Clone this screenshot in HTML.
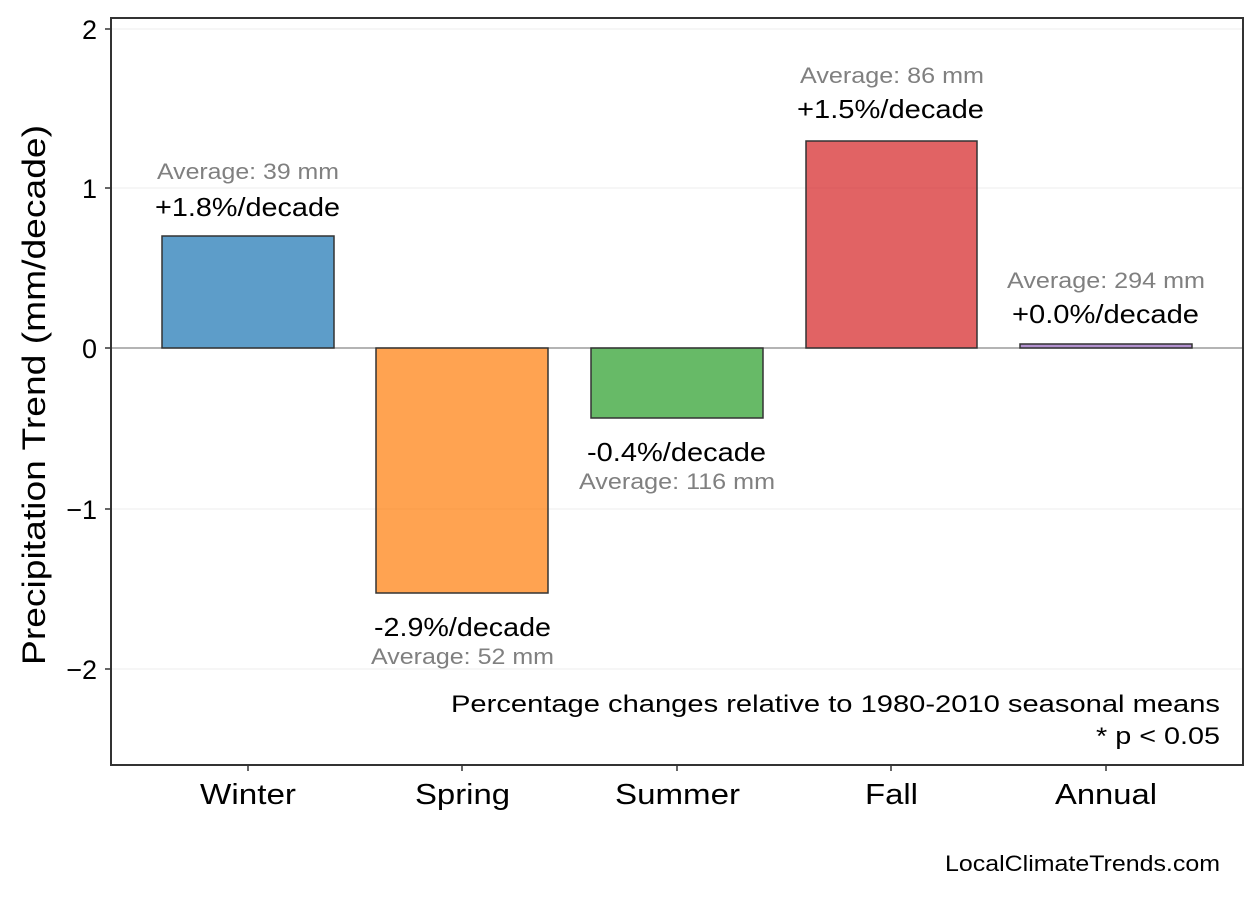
<!DOCTYPE html>
<html><head><meta charset="utf-8"><style>body{margin:0;background:#fff}</style></head><body>
<svg width="1258" height="892" xmlns="http://www.w3.org/2000/svg" font-family="Liberation Sans, sans-serif">
<rect width="1258" height="892" fill="#fff"/>
<g stroke="#eeeeee" stroke-width="1">
<line x1="111" x2="1243" y1="29" y2="29"/><line x1="111" x2="1243" y1="188" y2="188"/>
<line x1="111" x2="1243" y1="509" y2="509"/><line x1="111" x2="1243" y1="669" y2="669"/>
</g>
<line x1="111" x2="1243" y1="348" y2="348" stroke="#888" stroke-width="1.2"/>
<g stroke="#333" stroke-width="1.5" fill-opacity="0.72">
<rect x="162" y="236" width="172" height="112" fill="#1f77b4"/>
<rect x="376" y="348" width="172" height="245" fill="#ff7f0e"/>
<rect x="591" y="348" width="172" height="70" fill="#2ca02c"/>
<rect x="806" y="141" width="171" height="207" fill="#d62728"/>
<rect x="1020" y="344" width="172" height="4" fill="#9467bd"/>
</g>
<rect x="111" y="18" width="1132" height="747" fill="none" stroke="#333" stroke-width="2"/>
<g font-size="27" fill="#000" text-anchor="end">
<text x="97" y="39">2</text><text x="97" y="198">1</text><text x="97" y="358">0</text>
<text x="97" y="519">−1</text><text x="97" y="679">−2</text>
</g>
<g stroke="#333" stroke-width="1.5">
<line x1="105" x2="111" y1="29" y2="29"/><line x1="105" x2="111" y1="188" y2="188"/><line x1="105" x2="111" y1="348" y2="348"/><line x1="105" x2="111" y1="509" y2="509"/><line x1="105" x2="111" y1="669" y2="669"/>
<line x1="248" x2="248" y1="765" y2="771"/><line x1="462" x2="462" y1="765" y2="771"/><line x1="677" x2="677" y1="765" y2="771"/><line x1="891" x2="891" y1="765" y2="771"/><line x1="1106" x2="1106" y1="765" y2="771"/>
</g>
<g font-size="29" lengthAdjust="spacingAndGlyphs">
<text x="200" y="804" textLength="96" lengthAdjust="spacingAndGlyphs">Winter</text>
<text x="415" y="804" textLength="95" lengthAdjust="spacingAndGlyphs">Spring</text>
<text x="615" y="804" textLength="125" lengthAdjust="spacingAndGlyphs">Summer</text>
<text x="865" y="804" textLength="53" lengthAdjust="spacingAndGlyphs">Fall</text>
<text x="1055" y="804" textLength="102" lengthAdjust="spacingAndGlyphs">Annual</text>
</g>
<text transform="translate(45,665) rotate(-90)" font-size="32" textLength="540" lengthAdjust="spacingAndGlyphs">Precipitation Trend (mm/decade)</text>
<g font-size="26">
<text x="155" y="216" textLength="185" lengthAdjust="spacingAndGlyphs">+1.8%/decade</text>
<text x="374" y="636" textLength="177" lengthAdjust="spacingAndGlyphs">-2.9%/decade</text>
<text x="587" y="461" textLength="179" lengthAdjust="spacingAndGlyphs">-0.4%/decade</text>
<text x="797" y="118" textLength="187" lengthAdjust="spacingAndGlyphs">+1.5%/decade</text>
<text x="1012" y="323" textLength="187" lengthAdjust="spacingAndGlyphs">+0.0%/decade</text>
</g>
<g font-size="22" fill="#808080">
<text x="157" y="179" textLength="182" lengthAdjust="spacingAndGlyphs">Average: 39 mm</text>
<text x="371" y="664" textLength="183" lengthAdjust="spacingAndGlyphs">Average: 52 mm</text>
<text x="579" y="489" textLength="196" lengthAdjust="spacingAndGlyphs">Average: 116 mm</text>
<text x="800" y="83" textLength="184" lengthAdjust="spacingAndGlyphs">Average: 86 mm</text>
<text x="1007" y="288" textLength="198" lengthAdjust="spacingAndGlyphs">Average: 294 mm</text>
</g>
<g font-size="24">
<text x="451" y="712" textLength="769" lengthAdjust="spacingAndGlyphs">Percentage changes relative to 1980-2010 seasonal means</text>
<text x="1096" y="744" textLength="124" lengthAdjust="spacingAndGlyphs">* p &lt; 0.05</text>
<text x="945" y="871" font-size="22" textLength="275" lengthAdjust="spacingAndGlyphs">LocalClimateTrends.com</text>
</g>
</svg>
</body></html>
